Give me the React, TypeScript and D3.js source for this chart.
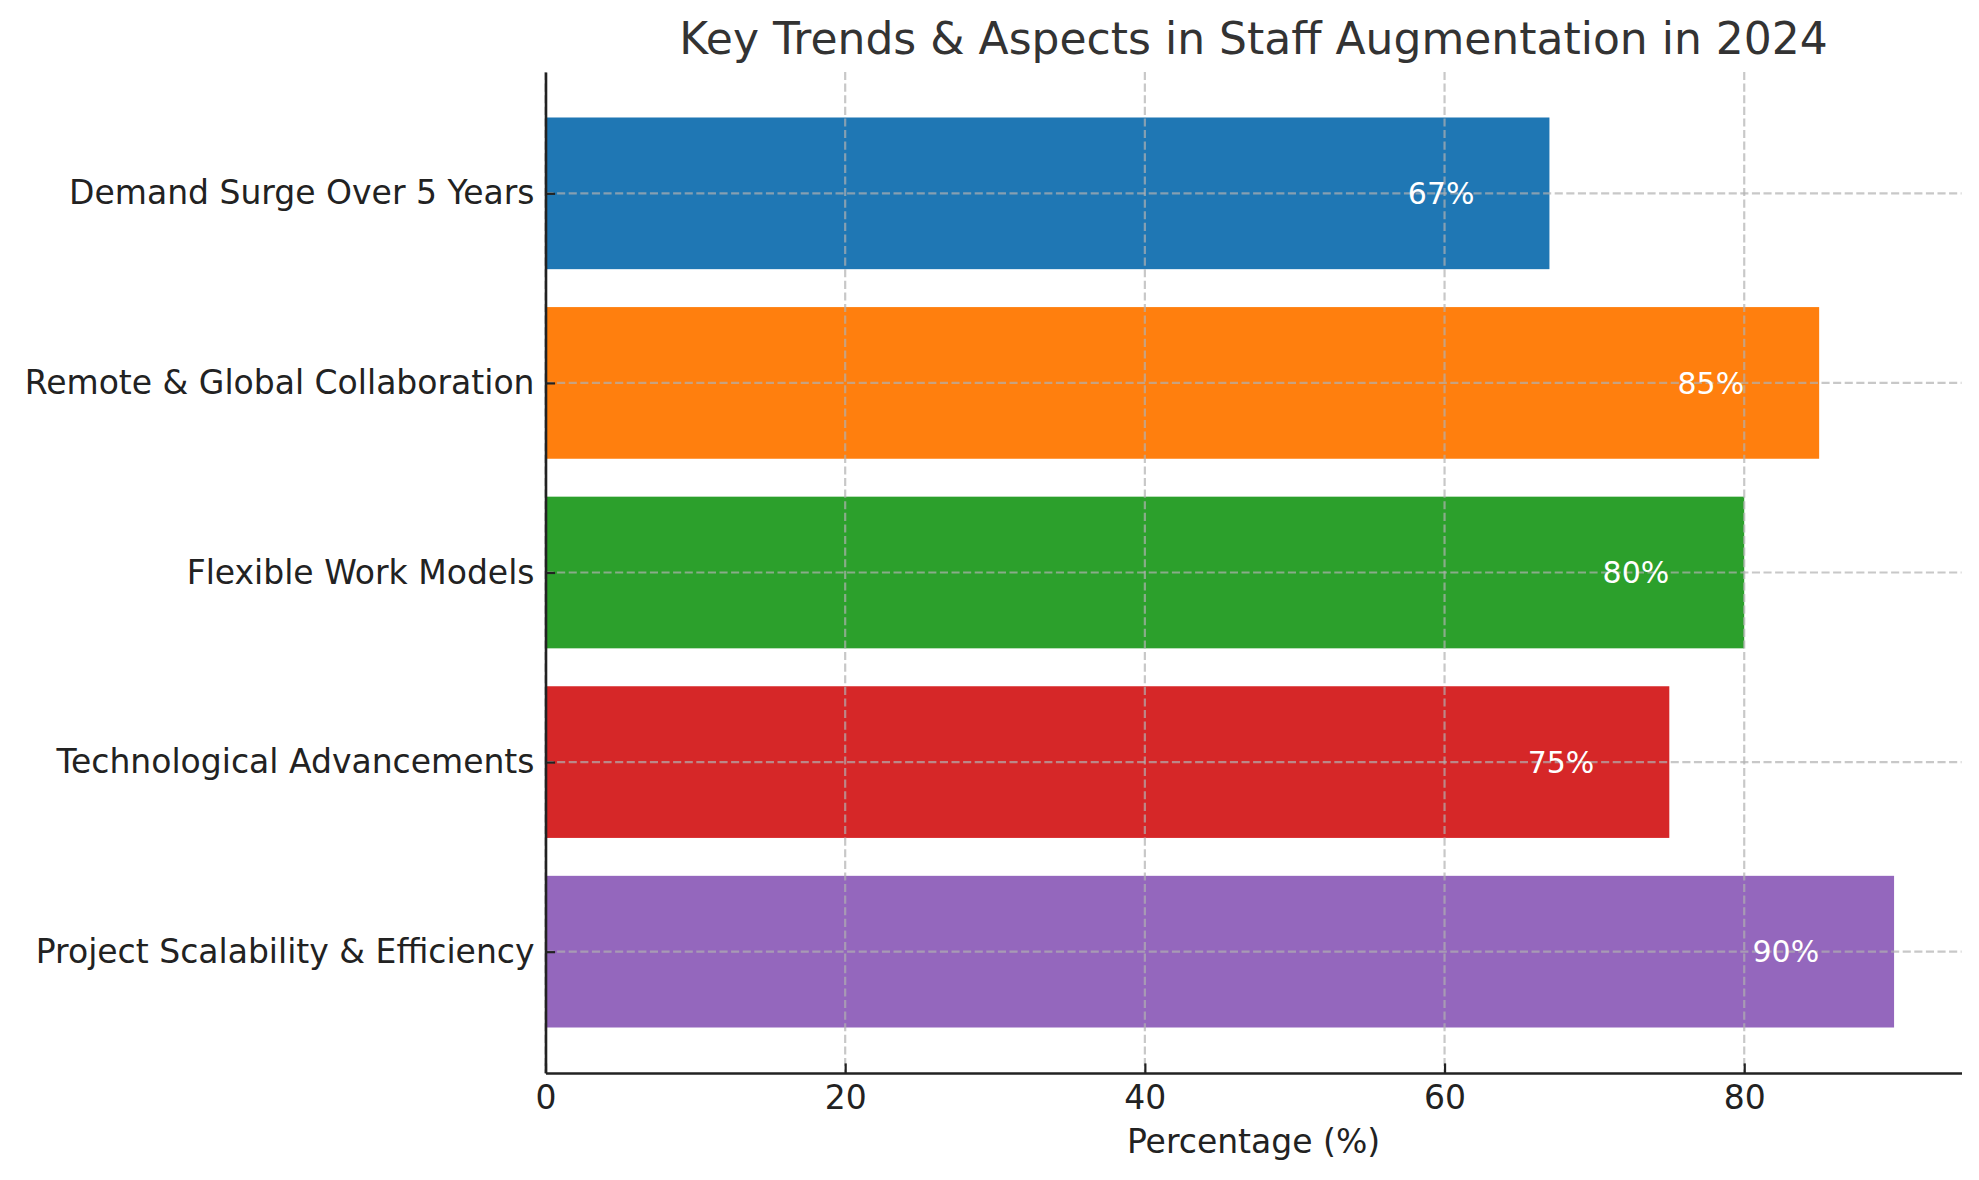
import * as d3 from "d3";
import React, { useEffect, useRef } from "react";

const categories = [
  "Demand Surge Over 5 Years",
  "Remote & Global Collaboration",
  "Flexible Work Models",
  "Technological Advancements",
  "Project Scalability & Efficiency",
];
const percentages = [67, 85, 80, 75, 90];
const barColors = ["#1f77b4", "#ff7f0e", "#2ca02c", "#d62728", "#9467bd"];
const xTicks = [0, 20, 40, 60, 80];

const title = "Key Trends & Aspects in Staff Augmentation in 2024";
const xLabel = "Percentage (%)";

const width = 1979;
const height = 1180;
const marginLeft = 545.5;
const marginRight = 17.5;
const marginTop = 72;
const marginBottom = 107;

export default function App() {
  const svgRef = useRef<SVGSVGElement>(null);

  useEffect(() => {
    if (!svgRef.current) return;
    const svg = d3.select(svgRef.current);
    svg.selectAll("*").remove();

    const font = "'DejaVu Sans', sans-serif";
    const xMax = (d3.max(percentages) ?? 100) * 1.05;
    const n = categories.length;

    const x = d3.scaleLinear([0, xMax], [marginLeft, width - marginRight]);
    // index space like matplotlib barh with 5% margins
    const y = d3.scaleLinear(
      [-0.4 - 0.24, n - 1 + 0.4 + 0.24],
      [marginTop, height - marginBottom]
    );

    // bars
    svg
      .append("g")
      .selectAll("rect")
      .data(percentages)
      .join("rect")
      .attr("x", x(0))
      .attr("y", (_, i) => y(i - 0.4))
      .attr("width", (d) => x(d) - x(0))
      .attr("height", (_, i) => y(i + 0.4) - y(i - 0.4))
      .attr("fill", (_, i) => barColors[i]);

    // grid (drawn above bars)
    const grid = svg
      .append("g")
      .attr("stroke", "#b0b0b0")
      .attr("stroke-opacity", 0.7)
      .attr("stroke-width", 2.2)
      .attr("stroke-dasharray", "8.1,3.5");
    grid
      .selectAll("line.gx")
      .data(xTicks)
      .join("line")
      .attr("class", "gx")
      .attr("x1", (d) => x(d))
      .attr("x2", (d) => x(d))
      .attr("y1", marginTop)
      .attr("y2", height - marginBottom);
    grid
      .selectAll("line.gy")
      .data(categories)
      .join("line")
      .attr("class", "gy")
      .attr("x1", marginLeft)
      .attr("x2", width - marginRight)
      .attr("y1", (_, i) => y(i))
      .attr("y2", (_, i) => y(i));

    // value labels
    svg
      .append("g")
      .selectAll("text")
      .data(percentages)
      .join("text")
      .attr("x", (d) => x(d - 5))
      .attr("y", (_, i) => y(i))
      .attr("dy", "0.36em")
      .attr("text-anchor", "end")
      .attr("fill", "white")
      .attr("font-family", font)
      .attr("font-size", 30)
      .text((d) => `${d}%`);

    // x axis
    const xAxis = d3
      .axisBottom(x)
      .tickValues(xTicks)
      .tickSizeInner(-9.6)
      .tickSizeOuter(0)
      .tickPadding(12.5);
    svg
      .append("g")
      .attr("transform", `translate(0,${height - marginBottom})`)
      .call(xAxis)
      .call((g) => {
        g.select(".domain").attr("stroke", "#222").attr("stroke-width", 2.6);
        g.selectAll(".tick line").attr("stroke", "#222").attr("stroke-width", 2.2);
        g.selectAll(".tick text")
          .attr("fill", "#222")
          .attr("font-family", font)
          .attr("font-size", 33);
      });

    // y axis
    const yAxis = d3
      .axisLeft(y)
      .tickValues(d3.range(n))
      .tickFormat((i) => categories[+i])
      .tickSizeInner(-9.6)
      .tickSizeOuter(0)
      .tickPadding(11);
    svg
      .append("g")
      .attr("transform", `translate(${marginLeft},0)`)
      .call(yAxis)
      .call((g) => {
        g.select(".domain").attr("stroke", "#222").attr("stroke-width", 2.6);
        g.selectAll(".tick line").attr("stroke", "#222").attr("stroke-width", 2.2);
        g.selectAll(".tick text")
          .attr("fill", "#222")
          .attr("font-family", font)
          .attr("font-size", 33);
      });

    // axis label
    svg
      .append("text")
      .attr("x", (marginLeft + width - marginRight) / 2)
      .attr("y", 1153)
      .attr("text-anchor", "middle")
      .attr("fill", "#222")
      .attr("font-family", font)
      .attr("font-size", 33)
      .text(xLabel);

    // title
    svg
      .append("text")
      .attr("x", (marginLeft + width - marginRight) / 2)
      .attr("y", 54)
      .attr("text-anchor", "middle")
      .attr("fill", "#333")
      .attr("font-family", font)
      .attr("font-size", 44)
      .text(title);
  }, []);

  return (
    <svg
      ref={svgRef}
      width={width}
      height={height}
      viewBox={`0 0 ${width} ${height}`}
      style={{ position: "absolute", left: 0, top: 0, background: "white" }}
    />
  );
}
